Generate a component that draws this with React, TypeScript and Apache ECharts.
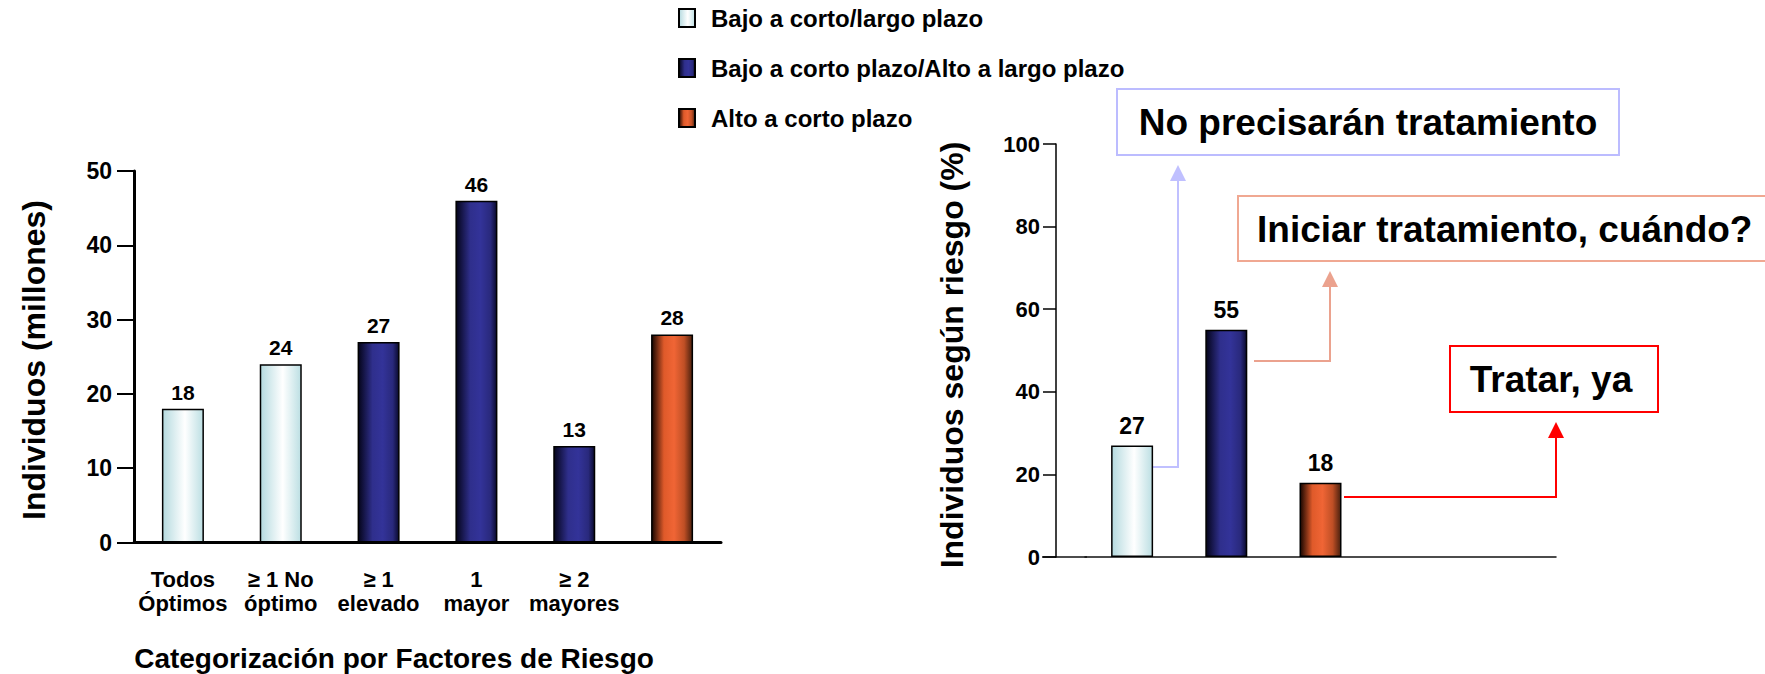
import React, { useEffect, useRef } from "react";
import * as echarts from "echarts";

// ---- Data ----
const legendNames = [
  "Bajo a corto/largo plazo",
  "Bajo a corto plazo/Alto a largo plazo",
  "Alto a corto plazo",
];

const leftCategories = [
  "Todos\nÓptimos",
  "≥ 1 No\nóptimo",
  "≥ 1\nelevado",
  "1\nmayor",
  "≥ 2\nmayores",
  "",
];
const leftBajo = [18, 24, null, null, null, null];
const leftBajoAlto = [null, null, 27, 46, 13, null];
const leftAlto = [null, null, null, null, null, 28];

const rightCategories = ["Bajo", "Intermedio", "Alto", "", ""];
const rightBajo = [27, null, null, null, null];
const rightBajoAlto = [null, 55, null, null, null];
const rightAlto = [null, null, 18, null, null];

const leftYTicks = { min: 0, max: 50, interval: 10 };
const rightYTicks = { min: 0, max: 100, interval: 20 };

const FONT = "'Liberation Sans', Arial, Helvetica, sans-serif";

const lightGrad = () =>
  new echarts.graphic.LinearGradient(0, 0, 1, 0, [
    { offset: 0, color: "#b4dadf" },
    { offset: 0.55, color: "#ffffff" },
    { offset: 1, color: "#bcdfe3" },
  ]);
const blueGrad = () =>
  new echarts.graphic.LinearGradient(0, 0, 1, 0, [
    { offset: 0, color: "#04041a" },
    { offset: 0.35, color: "#2f2f8c" },
    { offset: 0.6, color: "#333399" },
    { offset: 0.85, color: "#29297c" },
    { offset: 1, color: "#0a0a2e" },
  ]);
const orangeGrad = () =>
  new echarts.graphic.LinearGradient(0, 0, 1, 0, [
    { offset: 0, color: "#180600" },
    { offset: 0.3, color: "#df5a2a" },
    { offset: 0.55, color: "#f06535" },
    { offset: 0.8, color: "#bf4f25" },
    { offset: 1, color: "#4a200e" },
  ]);

export default function App() {
  const ref = useRef<HTMLDivElement>(null);

  useEffect(() => {
    if (!ref.current) return;
    const chart = echarts.init(ref.current, null, { renderer: "svg" });

    const barBase = (
      name: string,
      data: (number | null)[],
      color: any,
      axisIdx: number,
      labelSize: number,
      labelDist: number
    ) => ({
      type: "bar",
      name,
      data,
      xAxisIndex: axisIdx,
      yAxisIndex: axisIdx,
      barWidth: 42,
      barGap: "-100%",
      itemStyle: { color, borderColor: "#000", borderWidth: 1.5 },
      label: {
        show: true,
        position: "top",
        distance: labelDist,
        fontSize: labelSize,
        fontWeight: "bold",
        color: "#000",
        fontFamily: FONT,
      },
      emphasis: { disabled: true },
    });

    const option: any = {
      animation: false,
      textStyle: { fontFamily: FONT },
      legend: {
        orient: "vertical",
        left: 673,
        top: 1,
        itemGap: 26,
        itemWidth: 16,
        itemHeight: 18,
        selectedMode: false,
        icon: "rect",
        data: legendNames,
        textStyle: {
          fontSize: 24,
          fontWeight: "bold",
          color: "#000",
          fontFamily: FONT,
          padding: [0, 0, 0, 11],
        },
      },
      grid: [
        { left: 134, top: 171, width: 587, height: 371.5 },
        { left: 1085, top: 144, width: 471, height: 413 },
      ],
      xAxis: [
        {
          type: "category",
          gridIndex: 0,
          data: leftCategories,
          axisLine: { lineStyle: { color: "#000", width: 3 } },
          axisTick: { show: false },
          axisLabel: {
            interval: 0,
            fontSize: 22,
            lineHeight: 24,
            fontWeight: "bold",
            color: "#000",
            margin: 25,
            fontFamily: FONT,
          },
        },
        {
          type: "category",
          gridIndex: 1,
          data: rightCategories,
          axisLine: { lineStyle: { color: "#111", width: 1.5 } },
          axisTick: { show: false },
          axisLabel: { show: false },
        },
      ],
      yAxis: [
        {
          type: "value",
          gridIndex: 0,
          ...leftYTicks,
          axisLine: { show: true, lineStyle: { color: "#000", width: 3 } },
          axisTick: { show: true, length: 17, lineStyle: { color: "#000", width: 2 } },
          splitLine: { show: false },
          axisLabel: {
            fontSize: 23,
            fontWeight: "bold",
            color: "#000",
            margin: 22,
            fontFamily: FONT,
          },
        },
        {
          type: "value",
          gridIndex: 1,
          offset: 29,
          ...rightYTicks,
          axisLine: { show: true, lineStyle: { color: "#000", width: 1.5 } },
          axisTick: { show: true, length: 13, lineStyle: { color: "#000", width: 1.5 } },
          splitLine: { show: false },
          axisLabel: {
            fontSize: 22,
            fontWeight: "bold",
            color: "#000",
            margin: 16,
            fontFamily: FONT,
          },
        },
      ],
      series: [
        barBase(legendNames[0], leftBajo, lightGrad(), 0, 21, 6),
        barBase(legendNames[1], leftBajoAlto, blueGrad(), 0, 21, 6),
        barBase(legendNames[2], leftAlto, orangeGrad(), 0, 21, 6),
        barBase(legendNames[0], rightBajo, lightGrad(), 1, 23, 8),
        barBase(legendNames[1], rightBajoAlto, blueGrad(), 1, 23, 8),
        barBase(legendNames[2], rightAlto, orangeGrad(), 1, 23, 8),
      ],
      graphic: [
        // axis names
        {
          type: "text",
          x: 394,
          y: 658,
          style: {
            text: "Categorización por Factores de Riesgo",
            fontSize: 28,
            fontWeight: "bold",
            fill: "#000",
            fontFamily: FONT,
            align: "center",
            verticalAlign: "middle",
          },
        },
        {
          type: "text",
          x: 34,
          y: 360,
          rotation: Math.PI / 2,
          style: {
            text: "Individuos (millones)",
            fontSize: 32,
            fontWeight: "bold",
            fill: "#000",
            fontFamily: FONT,
            align: "center",
            verticalAlign: "middle",
          },
        },
        {
          type: "text",
          x: 952,
          y: 355,
          rotation: Math.PI / 2,
          style: {
            text: "Individuos según riesgo (%)",
            fontSize: 32,
            fontWeight: "bold",
            fill: "#000",
            fontFamily: FONT,
            align: "center",
            verticalAlign: "middle",
          },
        },
        // right x-axis baseline extension
        {
          type: "line",
          shape: { x1: 1042, y1: 557, x2: 1087, y2: 557 },
          style: { stroke: "#111", lineWidth: 1.5 },
        },
        // connectors
        {
          type: "polyline",
          shape: { points: [[1148, 467], [1178, 467], [1178, 180]] },
          style: { stroke: "#c0c0ff", lineWidth: 2, fill: null },
        },
        {
          type: "polygon",
          shape: { points: [[1170, 181], [1186, 181], [1178, 165]] },
          style: { fill: "#c0c0ff" },
        },
        {
          type: "polyline",
          shape: { points: [[1254, 361], [1330, 361], [1330, 286]] },
          style: { stroke: "#eba28e", lineWidth: 2, fill: null },
        },
        {
          type: "polygon",
          shape: { points: [[1322, 287], [1338, 287], [1330, 271]] },
          style: { fill: "#eba28e" },
        },
        {
          type: "polyline",
          shape: { points: [[1344, 497], [1556, 497], [1556, 437]] },
          style: { stroke: "#ff0000", lineWidth: 2, fill: null },
        },
        {
          type: "polygon",
          shape: { points: [[1548, 438], [1564, 438], [1556, 422]] },
          style: { fill: "#ff0000" },
        },
        // annotation boxes
        {
          type: "rect",
          shape: { x: 1117, y: 89, width: 502, height: 66 },
          style: { fill: "#fff", stroke: "#bcbcff", lineWidth: 2 },
        },
        {
          type: "text",
          x: 1368,
          y: 122,
          style: {
            text: "No precisarán tratamiento",
            fontSize: 37,
            fontWeight: "bold",
            fill: "#000",
            fontFamily: FONT,
            align: "center",
            verticalAlign: "middle",
          },
        },
        {
          type: "rect",
          shape: { x: 1238, y: 196, width: 540, height: 65 },
          style: { fill: "#fff", stroke: "#f0a892", lineWidth: 2 },
        },
        {
          type: "text",
          x: 1257,
          y: 229,
          style: {
            text: "Iniciar tratamiento, cuándo?",
            fontSize: 37,
            fontWeight: "bold",
            fill: "#000",
            fontFamily: FONT,
            align: "left",
            verticalAlign: "middle",
          },
        },
        {
          type: "rect",
          shape: { x: 1450, y: 346, width: 208, height: 66 },
          style: { fill: "#fff", stroke: "#ff0000", lineWidth: 2 },
        },
        {
          type: "text",
          x: 1551,
          y: 379,
          style: {
            text: "Tratar, ya",
            fontSize: 37,
            fontWeight: "bold",
            fill: "#000",
            fontFamily: FONT,
            align: "center",
            verticalAlign: "middle",
          },
        },
      ],
    };

    chart.setOption(option);
    return () => chart.dispose();
  }, []);

  return (
    <div
      ref={ref}
      style={{ position: "fixed", left: 0, top: 0, width: 1765, height: 674, background: "#fff" }}
    />
  );
}
